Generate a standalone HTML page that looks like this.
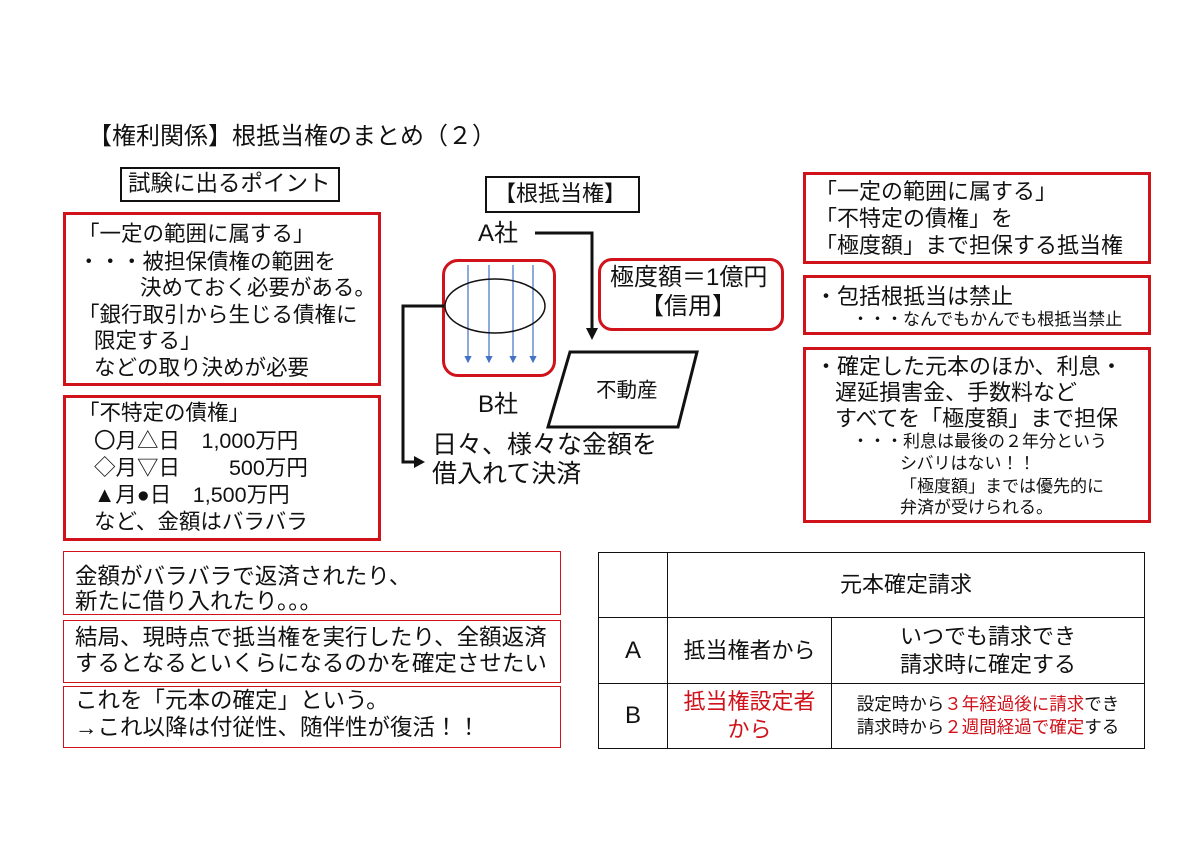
<!DOCTYPE html>
<html><head><meta charset="utf-8"><style>
body{margin:0;width:1200px;height:848px;background:#fff;position:relative;overflow:hidden;font-family:"Liberation Sans","Noto Sans CJK JP",sans-serif;color:#111}
.b{position:absolute;box-sizing:border-box}
.r{border:3px solid #d0121b}
.rt{border:1.5px solid #d0121b}
.t{position:absolute;font-size:21.5px;line-height:26px;white-space:pre}
.s{position:absolute;font-size:17px;line-height:22px;white-space:pre}
.red{color:#d0121b}
table{position:absolute;left:598px;top:552px;width:547px;height:196px;border-collapse:collapse}
td{border:1.5px solid #111;text-align:center;font-size:22px;line-height:28px;padding:0}
</style></head><body>
<div class="t" style="left:88px;top:124px;font-size:24px">【権利関係】根抵当権のまとめ（２）</div>
<div class="b" style="left:120px;top:167px;width:220px;height:35px;border:2px solid #111"></div>
<div class="t" style="left:128px;top:171px;font-size:22.5px">試験に出るポイント</div>

<div class="b r" style="left:63px;top:212px;width:318px;height:174px"></div>
<div class="t" style="left:78px;top:221px">「一定の範囲に属する」</div>
<div class="t" style="left:78px;top:249px">・・・被担保債権の範囲を</div>
<div class="t" style="left:140px;top:275px">決めておく必要がある。</div>
<div class="t" style="left:78px;top:302px">「銀行取引から生じる債権に</div>
<div class="t" style="left:94px;top:328px">限定する」</div>
<div class="t" style="left:94px;top:355px">などの取り決めが必要</div>

<div class="b r" style="left:63px;top:395px;width:318px;height:146px"></div>
<div class="t" style="left:78px;top:400px">「不特定の債権」</div>
<div class="t" style="left:94px;top:428px">〇月△日　1,000万円</div>
<div class="t" style="left:94px;top:455px">◇月▽日　　 500万円</div>
<div class="t" style="left:94px;top:482px">▲月●日　1,500万円</div>
<div class="t" style="left:94px;top:509px">など、金額はバラバラ</div>

<div class="b rt" style="left:63px;top:551px;width:498px;height:64px"></div>
<div class="t" style="left:75px;top:564px;font-size:22.5px">金額がバラバラで返済されたり、</div>
<div class="t" style="left:75px;top:589px;font-size:22.5px">新たに借り入れたり。。。</div>
<div class="b rt" style="left:63px;top:620px;width:498px;height:63px"></div>
<div class="t" style="left:75px;top:625px;font-size:22.5px">結局、現時点で抵当権を実行したり、全額返済</div>
<div class="t" style="left:75px;top:651px;font-size:22.5px">するとなるといくらになるのかを確定させたい</div>
<div class="b rt" style="left:63px;top:686px;width:498px;height:62px"></div>
<div class="t" style="left:75px;top:688px;font-size:22.5px">これを「元本の確定」という。</div>
<div class="t" style="left:75px;top:715px;font-size:22.5px">→これ以降は付従性、随伴性が復活！！</div>

<div class="b" style="left:485px;top:176px;width:155px;height:37px;border:2.5px solid #111"></div>
<div class="t" style="left:494px;top:181px;font-size:22px">【根抵当権】</div>
<div class="t" style="left:478px;top:221px;font-size:24px">A社</div>
<div class="t" style="left:478px;top:392px;font-size:24px">B社</div>
<div class="b r" style="left:442px;top:259px;width:114px;height:118px;border-radius:16px"></div>
<div class="b r" style="left:598px;top:258px;width:186px;height:73px;border-radius:14px"></div>
<div class="t" style="left:610px;top:265px;font-size:24px">極度額＝1億円</div>
<div class="t" style="left:640px;top:294px;font-size:24px">【信用】</div>
<div class="t" style="left:596px;top:378px;font-size:20.5px">不動産</div>
<div class="t" style="left:432px;top:432px;font-size:25px">日々、様々な金額を</div>
<div class="t" style="left:432px;top:461px;font-size:25px">借入れて決済</div>

<svg class="b" style="left:0;top:0" width="1200" height="848">
<defs><marker id="ab" markerWidth="6" markerHeight="6" refX="5" refY="3" orient="auto"><path d="M0,0L6,3L0,6z" fill="#4472c4"/></marker></defs>
<g stroke="#4472c4" stroke-width="1.2">
<line x1="468" y1="265" x2="468" y2="362" marker-end="url(#ab)"/>
<line x1="489" y1="265" x2="489" y2="362" marker-end="url(#ab)"/>
<line x1="513" y1="265" x2="513" y2="362" marker-end="url(#ab)"/>
<line x1="533" y1="265" x2="533" y2="362" marker-end="url(#ab)"/>
</g>
<ellipse cx="495" cy="306" rx="50" ry="27" fill="none" stroke="#111" stroke-width="1.5"/>
<polyline points="535,233 592,233 592,330" fill="none" stroke="#111" stroke-width="3"/>
<path d="M586,328L598,328L592,340z" fill="#111"/>
<polyline points="444,306 403,306 403,462 416,462" fill="none" stroke="#111" stroke-width="3"/>
<path d="M414,456L425,462L414,468z" fill="#111"/>
<polygon points="570,352 697,352 678,427 548,427" fill="none" stroke="#111" stroke-width="3"/>
</svg>

<div class="b r" style="left:803px;top:172px;width:348px;height:92px"></div>
<div class="t" style="left:815px;top:179px;font-size:22px">「一定の範囲に属する」</div>
<div class="t" style="left:815px;top:206px;font-size:22px">「不特定の債権」を</div>
<div class="t" style="left:815px;top:233px;font-size:22px">「極度額」まで担保する抵当権</div>
<div class="b r" style="left:803px;top:275px;width:348px;height:60px"></div>
<div class="t" style="left:815px;top:284px;font-size:22px">・包括根抵当は禁止</div>
<div class="s" style="left:852px;top:309px">・・・なんでもかんでも根抵当禁止</div>
<div class="b r" style="left:803px;top:347px;width:348px;height:176px"></div>
<div class="t" style="left:815px;top:354px;font-size:22px">・確定した元本のほか、利息・</div>
<div class="t" style="left:835px;top:380px;font-size:22px">遅延損害金、手数料など</div>
<div class="t" style="left:835px;top:406px;font-size:22px">すべてを「極度額」まで担保</div>
<div class="s" style="left:852px;top:431px">・・・利息は最後の２年分という</div>
<div class="s" style="left:900px;top:453px">シバリはない！！</div>
<div class="s" style="left:900px;top:476px">「極度額」までは優先的に</div>
<div class="s" style="left:900px;top:497px">弁済が受けられる。</div>

<table>
<tr style="height:65px"><td style="width:68px"></td><td colspan="2">元本確定請求</td></tr>
<tr style="height:66px"><td style="font-size:24px">A</td><td style="width:163px">抵当権者から</td><td>いつでも請求でき<br>請求時に確定する</td></tr>
<tr style="height:65px"><td style="font-size:24px">B</td><td class="red">抵当権設定者<br>から</td><td style="font-size:17.5px;line-height:23px">設定時から<span class="red">３年経過後に請求</span>でき<br>請求時から<span class="red">２週間経過で確定</span>する</td></tr>
</table>
</body></html>
